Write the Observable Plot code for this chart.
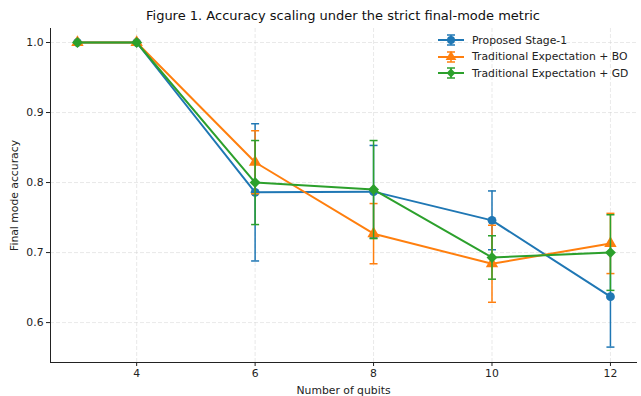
<!DOCTYPE html>
<html><head><meta charset="utf-8">
<script src="https://cdn.jsdelivr.net/npm/d3@7"></script>
<script src="https://cdn.jsdelivr.net/npm/@observablehq/plot@0.6"></script>
<style>
body{margin:0;background:#fff;font-family:"DejaVu Sans",sans-serif;}
#wrap{position:relative;width:641px;height:396px;overflow:hidden;}
#title{box-sizing:border-box;height:28px;padding:4px 5px 0 50px;line-height:24px;text-align:center;font-size:13px;color:#111;white-space:nowrap;}
#legend{position:absolute;left:436px;top:32px;font-size:10.8px;color:#222;}
.row{display:flex;align-items:center;height:16.5px;}
.row svg{margin-right:6px;}
</style></head><body>
<div id="wrap"><div id="title"></div><div id="chart"></div><div id="legend"></div></div>
<script>
const titleText = "Figure 1. Accuracy scaling under the strict final-mode metric";
const xLabel = "Number of qubits";
const yLabel = "Final mode accuracy";
const qubits = [3, 4, 6, 8, 10, 12];
const xTicks = [4, 6, 8, 10, 12];
const yTicks = [0.6, 0.7, 0.8, 0.9, 1.0];
const seriesNames = ["Proposed Stage-1", "Traditional Expectation + BO", "Traditional Expectation + GD"];
const seriesColors = ["#1f77b4", "#ff7f0e", "#2ca02c"];
const seriesSymbols = ["circle", "triangle", "diamond2"];
const proposed = [1.0, 1.0, 0.786, 0.787, 0.746, 0.637];
const proposedErr = [0, 0, 0.098, 0.066, 0.042, 0.072];
const bo = [1.0, 1.0, 0.829, 0.727, 0.684, 0.713];
const boErr = [0, 0, 0.045, 0.043, 0.055, 0.043];
const gd = [1.0, 1.0, 0.800, 0.790, 0.693, 0.700];
const gdErr = [0, 0, 0.060, 0.070, 0.031, 0.054];

const values = [proposed, bo, gd];
const errs = [proposedErr, boErr, gdErr];
const markerR = [4.4, 4.6, 4.9];

document.getElementById("title").textContent = titleText;

const capSymbol = {
  draw(ctx, size) {
    const r = Math.sqrt(size / Math.PI);
    ctx.moveTo(-r, 0); ctx.lineTo(r, 0);
  }
};

const seriesMarks = [];
seriesNames.forEach((name, i) => {
  const data = qubits.map((q, j) => ({q, v: values[i][j], e: errs[i][j]}));
  const withErr = data.filter(d => d.e > 0);
  const c = seriesColors[i];
  seriesMarks.push(
    Plot.ruleX(withErr, {x: "q", y1: d => d.v - d.e, y2: d => d.v + d.e, stroke: c, strokeWidth: 1.5}),
    Plot.dot(withErr, {x: "q", y: d => d.v + d.e, symbol: capSymbol, r: 4, stroke: c, strokeWidth: 1.5, fill: "none"}),
    Plot.dot(withErr, {x: "q", y: d => d.v - d.e, symbol: capSymbol, r: 4, stroke: c, strokeWidth: 1.5, fill: "none"}),
    Plot.line(data, {x: "q", y: "v", stroke: c, strokeWidth: 2}),
    Plot.dot(data, {x: "q", y: "v", symbol: seriesSymbols[i], r: markerR[i], fill: c, stroke: "none"})
  );
});

const chart = Plot.plot({
  width: 641, height: 368,
  marginLeft: 50, marginRight: 5, marginTop: 0, marginBottom: 34,
  style: {fontFamily: "DejaVu Sans, sans-serif", fontSize: "10.8px", color: "#222", background: "#fff"},
  x: {domain: [2.545, 12.44]},
  y: {domain: [0.543, 1.02]},
  marks: [
    Plot.gridX(xTicks, {stroke: "#d0d0d0", strokeOpacity: 0.6, strokeWidth: 0.8, strokeDasharray: "4,2"}),
    Plot.gridY(yTicks, {stroke: "#d0d0d0", strokeOpacity: 0.6, strokeWidth: 0.8, strokeDasharray: "4,2"}),
    Plot.frame({anchor: "left", stroke: "#222"}),
    Plot.frame({anchor: "bottom", stroke: "#222"}),
    Plot.axisX(xTicks, {tickSize: 4, tickPadding: 3, label: xLabel, labelAnchor: "center", labelArrow: "none", labelOffset: 31, fontSize: 10.8}),
    Plot.axisY(yTicks, {tickSize: 4, tickPadding: 3, tickFormat: d3.format(".1f"), label: yLabel, labelAnchor: "center", labelArrow: "none", labelOffset: 40, fontSize: 10.8}),
    ...seriesMarks
  ]
});
document.getElementById("chart").appendChild(chart);

// Legend
const legend = d3.select("#legend");
seriesNames.forEach((name, i) => {
  const row = legend.append("div").attr("class", "row");
  const svg = row.append("svg").attr("width", 30).attr("height", 16);
  const c = seriesColors[i];
  svg.append("line").attr("x1", 2).attr("x2", 28).attr("y1", 8).attr("y2", 8).attr("stroke", c).attr("stroke-width", 2);
  svg.append("line").attr("x1", 15).attr("x2", 15).attr("y1", 3).attr("y2", 13).attr("stroke", c).attr("stroke-width", 1.5);
  svg.append("line").attr("x1", 11).attr("x2", 19).attr("y1", 3).attr("y2", 3).attr("stroke", c).attr("stroke-width", 1.5);
  svg.append("line").attr("x1", 11).attr("x2", 19).attr("y1", 13).attr("y2", 13).attr("stroke", c).attr("stroke-width", 1.5);
  const sym = {circle: d3.symbolCircle, triangle: d3.symbolTriangle, diamond2: d3.symbolDiamond2}[seriesSymbols[i]];
  svg.append("path").attr("transform", "translate(15,8)").attr("d", d3.symbol(sym, Math.PI * 16)()).attr("fill", c);
  row.append("span").text(name);
});
</script>
</body></html>
